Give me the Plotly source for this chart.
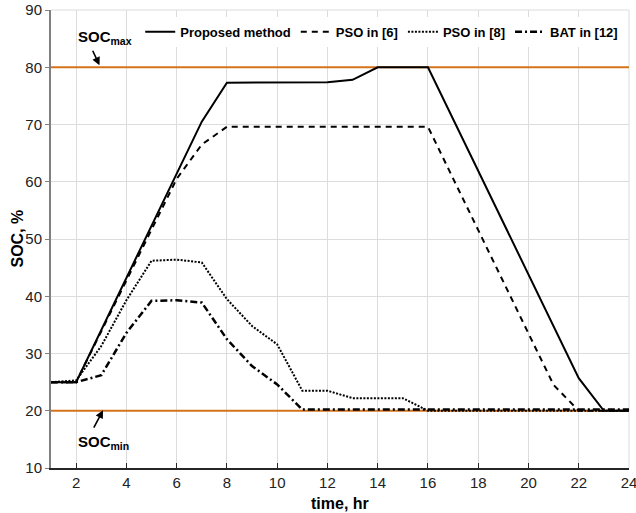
import plotly.graph_objects as go

# ---- data ----
hours_proposed = [1, 2, 7, 8, 12, 13, 14, 16, 22, 23, 24]
soc_proposed = [25, 25, 70.5, 77.3, 77.4, 77.8, 80, 80, 25.7, 20, 20]

hours_pso6 = [1, 2, 6, 7, 8, 16, 20, 21, 22, 24]
soc_pso6 = [25, 25, 60.5, 66.5, 69.6, 69.6, 33.5, 24.5, 20, 20]

hours_pso8 = [1, 2, 3, 4, 5, 6, 7, 8, 9, 10, 11, 12, 13, 15, 16, 24]
soc_pso8 = [25, 25.3, 31.3, 39.3, 46.2, 46.4, 45.9, 39.5, 34.8, 31.6, 23.5, 23.5, 22.2, 22.2, 20, 20]

hours_bat12 = [1, 2, 3, 4, 5, 6, 7, 8, 9, 10, 11, 24]
soc_bat12 = [25, 25, 26.2, 33.6, 39.2, 39.3, 38.9, 32.5, 27.8, 24.6, 20.2, 20.2]

soc_max = 80
soc_min = 20
x_limits = [1, 24]
y_limits = [10, 90]
x_ticks = [2, 4, 6, 8, 10, 12, 14, 16, 18, 20, 22, 24]
y_ticks = [10, 20, 30, 40, 50, 60, 70, 80, 90]

FONT = "Liberation Sans, Arial"
ORANGE = "#D4731B"

fig = go.Figure()

for lim in (soc_max, soc_min):
    fig.add_trace(go.Scatter(x=x_limits, y=[lim, lim], mode="lines",
                             line=dict(color=ORANGE, width=2), showlegend=False,
                             hoverinfo="skip"))

fig.add_trace(go.Scatter(x=hours_proposed, y=soc_proposed, mode="lines",
                         name="<b>Proposed method</b>",
                         line=dict(color="black", width=2)))
fig.add_trace(go.Scatter(x=hours_pso6, y=soc_pso6, mode="lines",
                         name="<b>PSO in [6]</b>",
                         line=dict(color="black", width=2, dash="6px,5px")))
fig.add_trace(go.Scatter(x=hours_pso8, y=soc_pso8, mode="lines",
                         name="<b>PSO in [8]</b>",
                         line=dict(color="black", width=2, dash="2px,1.5px")))
fig.add_trace(go.Scatter(x=hours_bat12, y=soc_bat12, mode="lines",
                         name="<b>BAT in [12]</b>",
                         line=dict(color="black", width=2.5, dash="7px,3px,2px,3px")))

# annotations
fig.add_annotation(x=2.93, y=80.35, ax=-7.5, ay=-16, xref="x", yref="y",
                   text="", showarrow=True,
                   arrowhead=2, arrowsize=1, arrowwidth=1.6, arrowcolor="black",
                   standoff=0, startstandoff=0)
fig.add_annotation(x=3.07, y=20.1, ax=-10, ay=19, xref="x", yref="y",
                   text="", showarrow=True,
                   arrowhead=2, arrowsize=1, arrowwidth=1.6, arrowcolor="black",
                   standoff=0, startstandoff=0)
fig.add_annotation(x=1.98, y=85.2, xref="x", yref="y", xanchor="left", yanchor="middle",
                   text="<b>SOC<sub>max</sub></b>", showarrow=False,
                   font=dict(family=FONT, size=15, color="black"))
fig.add_annotation(x=1.98, y=14.4, xref="x", yref="y", xanchor="left", yanchor="middle",
                   text="<b>SOC<sub>min</sub></b>", showarrow=False,
                   font=dict(family=FONT, size=15, color="black"))

# axis titles
fig.add_annotation(x=0.5, y=0, xref="paper", yref="paper", yshift=-25,
                   xanchor="center", yanchor="top", showarrow=False,
                   text="<b>time, hr</b>", font=dict(family=FONT, size=16, color="black"))
fig.add_annotation(x=0, y=0.5, xref="paper", yref="paper", xshift=-24,
                   xanchor="right", yanchor="middle", showarrow=False, textangle=-90,
                   text="<b>SOC, %</b>", font=dict(family=FONT, size=16, color="black"))

fig.update_layout(
    width=636, height=513,
    margin=dict(l=51, r=7, t=10, b=45),
    paper_bgcolor="white", plot_bgcolor="white",
    font=dict(family=FONT, size=15, color="#222222"),
    legend=dict(orientation="h", x=0.99, y=0.985, xanchor="right", yanchor="top",
                bgcolor="white", font=dict(family=FONT, size=13, color="black"),
                itemwidth=30, tracegroupgap=0, borderwidth=0),
    xaxis=dict(range=x_limits, tickvals=x_ticks, showgrid=True, gridcolor="#dcdcdc",
               gridwidth=1, zeroline=False, showline=True, linecolor="#262626",
               linewidth=1.5, ticks="inside", ticklen=5, tickcolor="#262626",
               automargin=False, ticklabeloverflow="allow",
               tickfont=dict(size=15, color="#222222")),
    yaxis=dict(range=y_limits, tickvals=y_ticks, showgrid=True, gridcolor="#dcdcdc",
               gridwidth=1, zeroline=False, showline=True, linecolor="#808080",
               linewidth=2, ticks="outside", ticklen=4, tickcolor="#808080",
               automargin=False, ticklabeloverflow="allow",
               tickfont=dict(size=15, color="#222222")),
)
# light frame on top/right
fig.add_shape(type="line", xref="paper", yref="paper", x0=0, x1=1, y0=1, y1=1,
              line=dict(color="#dcdcdc", width=1), layer="below")
fig.add_shape(type="line", xref="paper", yref="paper", x0=1, x1=1, y0=0, y1=1,
              line=dict(color="#dcdcdc", width=1), layer="below")

fig.write_html("out.html",
               config={"displayModeBar": False},
               post_script="document.body.style.margin='0';document.body.style.overflow='hidden';")
